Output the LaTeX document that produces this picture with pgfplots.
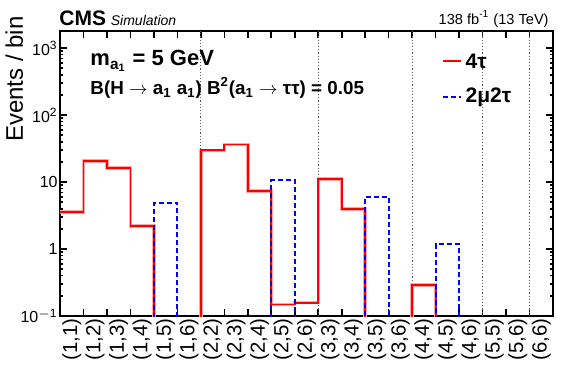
\documentclass[border=0pt]{standalone}
\usepackage{pgfplots}
\pgfplotsset{compat=1.18}
\usepackage{fontspec}
\setmainfont{Liberation Sans}
\begin{document}
\begin{tikzpicture}[x=1pt,y=1pt]
\useasboundingbox (-30pt,-28pt) rectangle (260pt,158pt);
\begin{axis}[
  at={(0,0)}, anchor=south west,
  width=246.5pt, height=142.5pt, scale only axis,
  xmin=0, xmax=21, ymode=log, ymin=0.1, ymax=1800,
  axis line style={line width=1pt},
  xtick={1,...,20},
  xticklabels={},
  extra x ticks={0.5,1.5,...,20.5},
  extra x tick labels={(1,1),(1,2),(1,3),(1,4),(1,5),(1,6),(2,2),(2,3),(2,4),(2,5),(2,6),(3,3),(3,4),(3,5),(3,6),(4,4),(4,5),(4,6),(5,5),(5,6),(6,6)},
  extra x tick style={tick style={draw=none}, tick label style={rotate=90, anchor=east, font=\fontsize{10.2}{11}\selectfont, inner sep=1pt}},
  ytick={0.1,1,10,100,1000},
  yticklabels={10\textsuperscript{$-$1},1,10,10\textsuperscript{2},10\textsuperscript{3}},
  y tick label style={font=\fontsize{8}{9}\selectfont, inner sep=1pt},
  major tick length=3.5pt, minor tick length=1.7pt,
  tick style={line width=0.8pt, black},
  clip=true,
]
\pgfplotsinvokeforeach{6,11,15,18,20}{
  \draw[densely dotted, gray!70!black, line width=0.6pt] (axis cs:#1,0.1) -- (axis cs:#1,1800);
}
% red 4tau
\addplot[const plot mark left, red!35, line width=1.7pt, forget plot] coordinates {
(0,3.56) (1,20.6) (2,16.2) (3,2.22) (4,1e-5) (5,1e-5) (6,29.8) (7,36.3) (8,7.4) (9,0.149) (10,0.158) (11,11.1) (12,3.95) (13,1e-5) (14,1e-5) (15,0.29) (16,1e-5) (17,1e-5) (18,1e-5) (19,1e-5) (20,1e-5) (21,1e-5)};
\addplot[const plot mark left, red, line width=0.9pt] coordinates {
(0,3.56) (1,20.6) (2,16.2) (3,2.22) (4,1e-5) (5,1e-5) (6,29.8) (7,36.3) (8,7.4) (9,0.149) (10,0.158) (11,11.1) (12,3.95) (13,1e-5) (14,1e-5) (15,0.29) (16,1e-5) (17,1e-5) (18,1e-5) (19,1e-5) (20,1e-5) (21,1e-5)};
% blue 2mu2tau
\addplot[const plot mark left, blue, line width=1pt, dash pattern=on 2.5pt off 1.5pt] coordinates {
(0,1e-5) (1,1e-5) (2,1e-5) (3,1e-5) (4,4.92) (5,1e-5) (6,1e-5) (7,1e-5) (8,1e-5) (9,10.8) (10,1e-5) (11,1e-5) (12,1e-5) (13,6.05) (14,1e-5) (15,1e-5) (16,1.18) (17,1e-5) (18,1e-5) (19,1e-5) (20,1e-5) (21,1e-5)};
\node[anchor=base west, inner sep=0pt, font=\bfseries\fontsize{11}{12}\selectfont] at (rel axis cs:0.061,0.878) {m\textsubscript{a\textsubscript{1}} = 5 GeV};
\node[anchor=base west, inner sep=0pt, font=\bfseries\fontsize{9.4}{10}\selectfont] at (rel axis cs:0.061,0.778) {B(H $\rightarrow$ a\textsubscript{1} a\textsubscript{1}) B\textsuperscript{2}(a\textsubscript{1} $\rightarrow$ ττ) = 0.05};
% legend
\draw[red, line width=1pt] (rel axis cs:0.777,0.895) -- (rel axis cs:0.813,0.895);
\node[anchor=west, font=\bfseries\fontsize{10.5}{11}\selectfont, inner sep=1pt] at (rel axis cs:0.818,0.895) {4τ};
\draw[blue, line width=1pt, dash pattern=on 2.5pt off 1.5pt] (rel axis cs:0.777,0.768) -- (rel axis cs:0.813,0.768);
\node[anchor=west, font=\bfseries\fontsize{10.5}{11}\selectfont, inner sep=1pt] at (rel axis cs:0.818,0.768) {2μ2τ};
\end{axis}
\node[anchor=base west, inner sep=0pt, font=\bfseries\fontsize{10.5}{12}\selectfont] (cms) at (-0.5pt,145.5pt) {CMS};
\node[anchor=base west, inner sep=0pt, font=\itshape\fontsize{7}{9}\selectfont] at ([xshift=2pt]cms.base east) {Simulation};
\node[anchor=base east, inner sep=0pt, font=\fontsize{7.3}{9}\selectfont] at (244.5pt,146pt) {138 fb\textsuperscript{-1} (13 TeV)};
\node[rotate=90, anchor=base east, inner sep=0pt, font=\fontsize{12}{14}\selectfont] at (-18.5pt,150pt) {Events / bin};
\end{tikzpicture}
\end{document}
